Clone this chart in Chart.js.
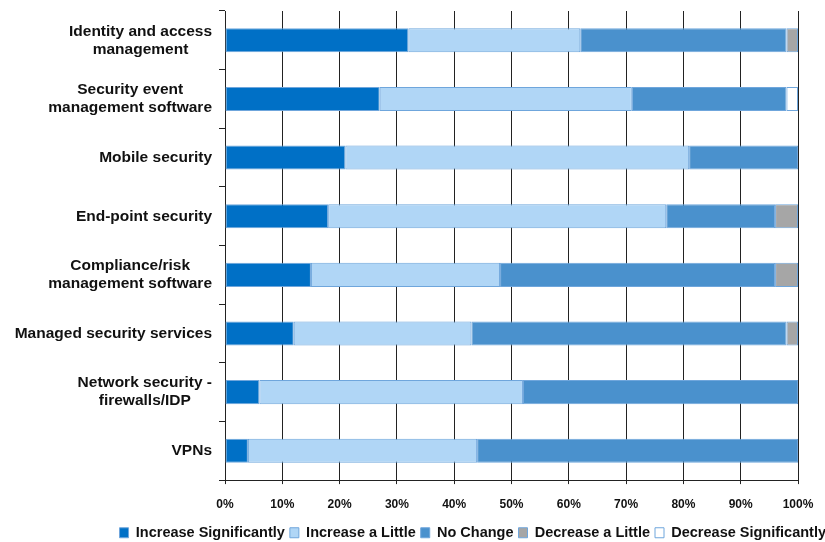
<!DOCTYPE html>
<html>
<head>
<meta charset="utf-8">
<title>Security spending plans</title>
<script src="https://cdn.jsdelivr.net/npm/chart.js@4/dist/chart.umd.min.js"></script>
<style>
  html, body { margin: 0; padding: 0; background: #fff; }
  #wrap { width: 825px; height: 542px; position: relative; }
</style>
</head>
<body>
<div id="wrap"><canvas id="spendChart"></canvas></div>
<script>
const FONT = "Arial, 'Liberation Sans', Helvetica, sans-serif";

// categories, top to bottom
const categories = [
    ["Identity and access", "management"],
    ["Security event", "management software"],
    ["Mobile security"],
    ["End-point security"],
    ["Compliance/risk", "management software"],
    ["Managed security services"],
    ["Network security -", "firewalls/IDP"],
    ["VPNs"]
];

// share of respondents, in percent
const increaseSignificantly = [32, 27, 21, 18, 15, 12, 6, 4];
const increaseLittle        = [30, 44, 60, 59, 33, 31, 46, 40];
const noChange              = [36, 27, 19, 19, 48, 55, 48, 56];
const decreaseLittle        = [2, 0, 0, 4, 4, 2, 0, 0];
const decreaseSignificantly = [0, 2, 0, 0, 0, 0, 0, 0];

const seriesNames = ["Increase Significantly", "Increase a Little", "No Change", "Decrease a Little", "Decrease Significantly"];
const seriesColors = ["#0070C6", "#B0D6F6", "#4A91CD", "#A6A6A6", "#FFFFFF"];
const xTicks = [0, 10, 20, 30, 40, 50, 60, 70, 80, 90, 100];

const seriesData = [increaseSignificantly, increaseLittle, noChange, decreaseLittle, decreaseSignificantly];

// y labels: each block right-aligned, lines centred inside the block
const categoryLabels = {
    id: "categoryLabels",
    afterLayout(chart) {
        // nudge the legend row right and up a little
        chart.legend.left += 14;
        chart.legend.right += 14;
        chart.legend.top -= 4;
        chart.legend.bottom -= 4;
    },
    afterDraw(chart) {
        const ctx = chart.ctx;
        const yScale = chart.scales.y;
        const right = yScale.right - 13;
        const lineH = 18;
        ctx.save();
        ctx.font = "bold 15.5px " + FONT;
        ctx.fillStyle = "#111";
        ctx.textAlign = "center";
        ctx.textBaseline = "middle";
        categories.forEach((lines, i) => {
            const yc = yScale.getPixelForValue(i);
            const w = Math.max(...lines.map(l => ctx.measureText(l).width));
            const cx = right - w / 2;
            const y0 = yc - (lines.length - 1) * lineH / 2;
            lines.forEach((l, k) => ctx.fillText(l, cx, y0 + k * lineH));
        });
        ctx.restore();
    }
};

new Chart(document.getElementById("spendChart"), {
    type: "bar",
    data: {
        labels: categories.map(c => c.join(" ")),
        datasets: seriesNames.map((name, i) => ({
            label: name,
            data: seriesData[i],
            backgroundColor: seriesColors[i],
            borderColor: "#6FA6DC",
            borderWidth: 1,
            borderSkipped: false,
            barPercentage: 0.41,
            categoryPercentage: 1
        }))
    },
    options: {
        indexAxis: "y",
        responsive: true,
        maintainAspectRatio: false,
        animation: false,
        layout: { padding: { top: 11, right: 8, left: 0, bottom: -12 } },
        scales: {
            x: {
                stacked: true,
                min: 0,
                max: 100,
                afterBuildTicks: scale => { scale.ticks = xTicks.map(v => ({ value: v })); },
                afterFit: scale => { scale.paddingRight = 27; },
                ticks: {
                    callback: v => v + "%",
                    color: "#111",
                    padding: 13,
                    maxRotation: 0,
                    font: { family: FONT, size: 12, weight: "bold" }
                },
                grid: { color: "#222", lineWidth: 1, tickLength: 4 },
                border: { color: "#222", width: 1 }
            },
            y: {
                stacked: true,
                ticks: { display: false },
                grid: { offset: true, drawOnChartArea: false, tickLength: 6, color: "#222" },
                border: { color: "#222", width: 1 },
                afterFit: scale => { scale.width = 225; }
            }
        },
        plugins: {
            legend: {
                position: "bottom",
                align: "end",
                labels: {
                    color: "#111",
                    boxWidth: 9,
                    boxHeight: 10,
                    padding: 5,
                    font: { family: FONT, size: 14.5, weight: "bold" }
                }
            },
            tooltip: { enabled: false }
        }
    },
    plugins: [categoryLabels]
});
</script>
</body>
</html>
